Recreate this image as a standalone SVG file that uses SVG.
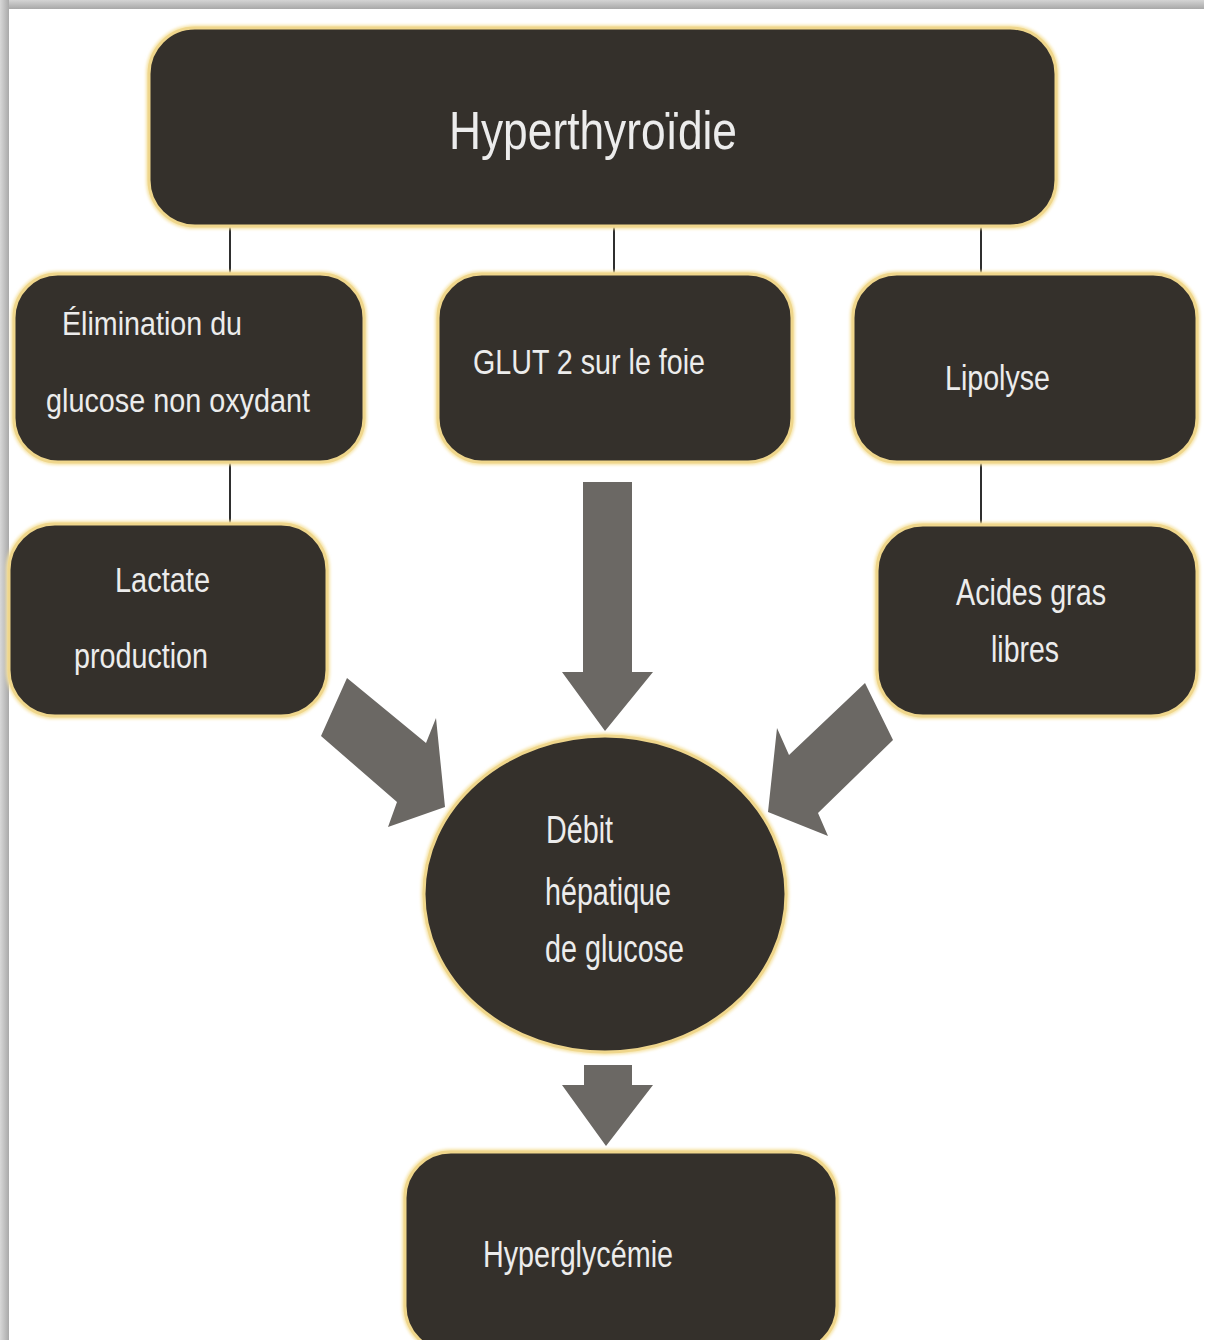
<svg xmlns="http://www.w3.org/2000/svg" width="1208" height="1340" viewBox="0 0 1208 1340">
<defs>
<linearGradient id="gTop" x1="0" y1="0" x2="0" y2="1"><stop offset="0" stop-color="#d4d4d4"/><stop offset="1" stop-color="#a8a8a8"/></linearGradient>
<linearGradient id="gLeft" x1="0" y1="0" x2="1" y2="0"><stop offset="0" stop-color="#d8d8d8"/><stop offset="1" stop-color="#a9a9a9"/></linearGradient>
<filter id="glow" x="-10%" y="-10%" width="120%" height="120%"><feGaussianBlur stdDeviation="1.6"/></filter>
<style>
.node{fill:#34302b;stroke:#efd68c;stroke-width:3}
.halo{fill:none;stroke:#f6e3a4;stroke-width:6;filter:url(#glow)}
.t{font-family:"Liberation Sans",Arial,sans-serif;fill:#ececec}
.link{stroke:#2f2f2f;stroke-width:2}
.arrow{fill:#6b6864}
</style>
</defs>
<rect x="0" y="0" width="1208" height="1340" fill="#ffffff"/>
<rect x="0" y="0" width="1204" height="9" fill="url(#gTop)"/>
<rect x="0" y="0" width="9" height="1340" fill="url(#gLeft)"/>

<g id="connectors">
<line class="link" x1="230" y1="226" x2="230" y2="275"/>
<line class="link" x1="614" y1="226" x2="614" y2="275"/>
<line class="link" x1="981" y1="226" x2="981" y2="275"/>
<line class="link" x1="230" y1="462" x2="230" y2="524"/>
<line class="link" x1="981" y1="462" x2="981" y2="525"/>
<polygon class="arrow" points="583,482 632,482 632,672 653,672 605,731 562,672 583,672"/>
<polygon class="arrow" points="347,678 426,743 436,718 445,807 388,827 397,802 321,736"/>
<polygon class="arrow" points="865,683 789,755 777,728 768,812 828,836 818,813 893,740"/>
<polygon class="arrow" points="584,1065 632,1065 632,1085 653,1085 606,1146 562,1085 584,1085"/>
</g>

<g id="n-hyperthyroidie">
<rect class="halo" x="149" y="28" width="907" height="198" rx="46"/>
<rect class="node" x="149" y="28" width="907" height="198" rx="46"/>
<text class="t" x="449" y="149" font-size="54" textLength="288" lengthAdjust="spacingAndGlyphs">Hyperthyroïdie</text>
</g>

<g id="n-elimination">
<rect class="halo" x="14" y="274" width="350" height="188" rx="44"/>
<rect class="node" x="14" y="274" width="350" height="188" rx="44"/>
<text class="t" x="62" y="335" font-size="34" textLength="180" lengthAdjust="spacingAndGlyphs">Élimination du</text>
<text class="t" x="46" y="412" font-size="34" textLength="264" lengthAdjust="spacingAndGlyphs">glucose non oxydant</text>
</g>

<g id="n-glut2">
<rect class="halo" x="438" y="274" width="354" height="188" rx="44"/>
<rect class="node" x="438" y="274" width="354" height="188" rx="44"/>
<text class="t" x="473" y="374" font-size="35" textLength="232" lengthAdjust="spacingAndGlyphs">GLUT 2 sur le foie</text>
</g>

<g id="n-lipolyse">
<rect class="halo" x="853" y="274" width="344" height="188" rx="44"/>
<rect class="node" x="853" y="274" width="344" height="188" rx="44"/>
<text class="t" x="945" y="390" font-size="35" textLength="105" lengthAdjust="spacingAndGlyphs">Lipolyse</text>
</g>

<g id="n-lactate">
<rect class="halo" x="9" y="524" width="318" height="192" rx="46"/>
<rect class="node" x="9" y="524" width="318" height="192" rx="46"/>
<text class="t" x="115" y="592" font-size="35" textLength="95" lengthAdjust="spacingAndGlyphs">Lactate</text>
<text class="t" x="74" y="668" font-size="35" textLength="134" lengthAdjust="spacingAndGlyphs">production</text>
</g>

<g id="n-acides">
<rect class="halo" x="877" y="525" width="320" height="191" rx="46"/>
<rect class="node" x="877" y="525" width="320" height="191" rx="46"/>
<text class="t" x="956" y="605" font-size="36" textLength="150" lengthAdjust="spacingAndGlyphs">Acides gras</text>
<text class="t" x="991" y="662" font-size="36" textLength="68" lengthAdjust="spacingAndGlyphs">libres</text>
</g>

<g id="n-debit">
<ellipse class="halo" cx="605" cy="894" rx="181" ry="158"/>
<ellipse class="node" cx="605" cy="894" rx="181" ry="158"/>
<text class="t" x="546" y="843" font-size="38" textLength="67" lengthAdjust="spacingAndGlyphs">Débit</text>
<text class="t" x="545" y="905" font-size="38" textLength="126" lengthAdjust="spacingAndGlyphs">hépatique</text>
<text class="t" x="545" y="962" font-size="38" textLength="139" lengthAdjust="spacingAndGlyphs">de glucose</text>
</g>

<g id="n-hyperglycemie">
<rect class="halo" x="405" y="1152" width="432" height="200" rx="46"/>
<rect class="node" x="405" y="1152" width="432" height="200" rx="46"/>
<text class="t" x="483" y="1267" font-size="36" textLength="190" lengthAdjust="spacingAndGlyphs">Hyperglycémie</text>
</g>
</svg>
